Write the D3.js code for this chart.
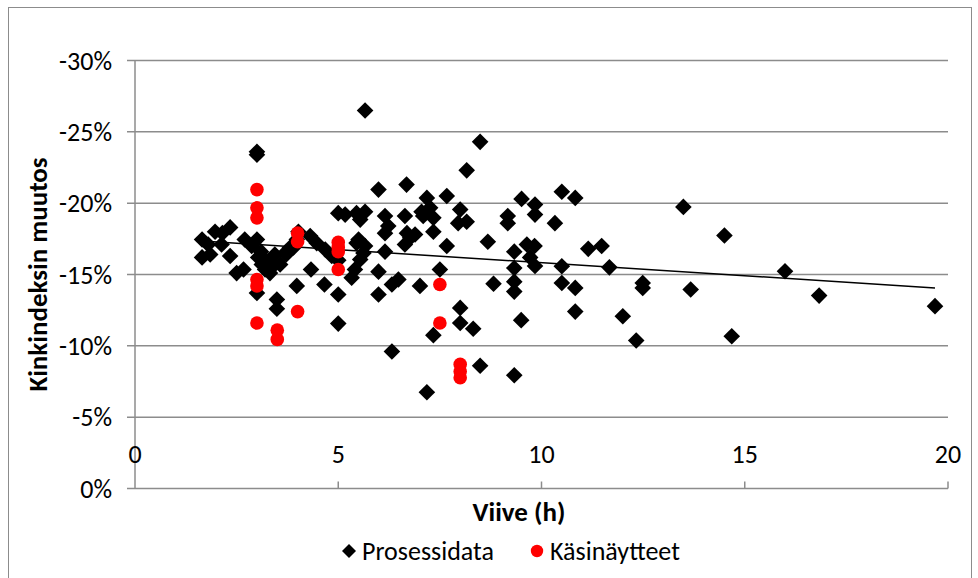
<!DOCTYPE html>
<html>
<head>
<meta charset="utf-8">
<script src="https://cdn.jsdelivr.net/npm/d3@7"></script>
<style>
  html, body { margin: 0; padding: 0; background: #fff; }
  svg { display: block; font-family: Carlito, Calibri, Lato, sans-serif; }
</style>
</head>
<body>
<div id="chart"></div>
<script>
const width = 978;
const height = 578;

// Prosessidata: viive (h), kinkindeksin muutos (%)
const procX = [
  1.65, 1.65, 1.8, 1.85, 1.97, 2.15, 2.34, 2.13, 2.34, 2.5, 2.67, 2.7, 2.87, 3.0, 3.0, 3.0,
  3.0, 3.03, 3.12, 3.2, 3.32, 3.24, 3.44, 3.57, 3.69, 3.81, 3.98, 3.49, 3.49, 3.98, 4.02, 3.4,
  3.1, 3.72, 3.9, 4.31, 4.47, 4.68, 4.84, 4.33, 4.66, 5.0, 5.17, 5.0, 5.0, 5.0,
  5.33, 5.41, 5.54, 5.62, 5.45, 5.5, 5.66, 5.45, 5.66, 5.54, 5.66, 5.99, 6.15, 6.23, 6.15, 6.15,
  5.99, 5.99, 6.32, 6.48, 6.32, 6.64, 6.69, 6.77, 6.64, 6.68, 6.89, 7.01,
  7.18, 7.67, 7.05, 7.26, 7.34, 7.09, 7.34, 8.0, 7.95, 8.16, 7.67, 7.5, 8.68, 8.82, 8.0, 8.0,
  8.32, 7.34, 8.49, 7.18, 8.49, 8.16,
  9.33, 9.51, 9.84, 9.84, 9.17, 9.17, 10.33, 9.33, 9.33, 9.33, 9.33, 9.64, 9.83, 9.72, 9.84, 9.5,
  10.5, 10.83, 11.15, 11.48, 10.5, 10.5, 10.83, 10.83,
  11.67, 12.0, 12.33, 12.49, 12.49, 13.49, 13.67, 14.5, 14.68, 15.99, 16.83, 19.68
];
const procY = [
  -17.45, -16.2, -17.1, -16.4, -18.0, -17.9, -18.3, -17.1, -16.3, -15.1, -15.35, -17.45, -17.0, -17.45, -23.4, -23.6,
  -13.7, -16.2, -15.7, -15.35, -15.1, -15.93, -16.4, -15.7, -16.5, -16.87, -17.45, -13.25, -12.6, -14.2, -18.0, -15.6,
  -16.6, -16.4, -16.9, -17.7, -17.2, -16.75, -16.3, -15.35, -14.3, -19.3, -19.2, -13.6, -11.56, -16.0,
  -14.77, -15.35, -16.05, -16.5, -17.2, -17.45, -17.0, -19.3, -19.4, -18.85, -26.5, -20.95, -19.1, -18.4, -17.9, -16.6,
  -15.2, -13.6, -14.3, -14.65, -9.6, -19.1, -17.9, -17.57, -17.1, -21.3, -17.8, -14.2,
  -20.37, -20.5, -19.4, -19.67, -18.97, -19.1, -18.0, -19.55, -18.6, -18.7, -17.0, -15.35, -17.3, -14.35, -12.66, -11.6,
  -11.2, -10.75, -8.6, -6.75, -24.3, -22.3,
  -7.94, -20.3, -19.9, -19.2, -19.1, -18.6, -18.6, -16.6, -15.45, -14.5, -13.8, -17.1, -17.0, -16.2, -15.6, -11.8,
  -20.8, -20.37, -16.8, -17.0, -15.58, -14.4, -14.06, -12.4,
  -15.5, -12.07, -10.37, -14.4, -14.06, -19.74, -13.95, -17.73, -10.67, -15.23, -13.52, -12.78
];

// Käsinäytteet
const handX = [3, 3, 3, 3, 3, 3, 3.5, 3.5, 4, 4, 4, 5, 5, 5, 5, 7.5, 7.5, 8, 8, 8];
const handY = [-20.95, -19.67, -18.97, -14.65, -14.2, -11.6, -11.1, -10.45, -17.9, -17.3, -12.4,
  -17.25, -16.9, -16.6, -15.35, -14.3, -11.6, -8.7, -8.2, -7.76];

// Linear trend (Prosessidata)
const trendX = [1.65, 19.68];
const trendY = [-17.35, -14.06];

const xTicks = [0, 5, 10, 15, 20];
const yTicks = [-30, -25, -20, -15, -10, -5, 0];

const plot = { left: 135, right: 948, top: 60.5, bottom: 488.5 };
const gridColor = "#8c8c8c";
const labelSize = "26px";
const titleSize = "27px";

const svg = d3.select("#chart").append("svg")
  .attr("width", width)
  .attr("height", height)
  .attr("viewBox", [0, 0, width, height]);

// outer chart border
svg.append("rect")
  .attr("x", 8.5).attr("y", 7.5)
  .attr("width", 963).attr("height", 600)
  .attr("fill", "none")
  .attr("stroke", "#8c8c8c")
  .attr("stroke-width", 1);

const x = d3.scaleLinear().domain([0, 20]).range([plot.left, plot.right]);
const y = d3.scaleLinear().domain([0, -30]).range([plot.bottom, plot.top]);

// gridlines + y ticks
svg.append("g")
  .selectAll("line")
  .data(yTicks)
  .join("line")
  .attr("x1", plot.left - 8)
  .attr("x2", plot.right)
  .attr("y1", d => y(d))
  .attr("y2", d => y(d))
  .attr("stroke", gridColor)
  .attr("stroke-width", 1.5);

// y axis line
svg.append("line")
  .attr("x1", plot.left).attr("x2", plot.left)
  .attr("y1", plot.top).attr("y2", plot.bottom)
  .attr("stroke", gridColor)
  .attr("stroke-width", 1.5);

// x tick marks on the 0% line
svg.append("g")
  .selectAll("line")
  .data(xTicks.slice(1))
  .join("line")
  .attr("x1", d => x(d)).attr("x2", d => x(d))
  .attr("y1", plot.bottom).attr("y2", plot.bottom - 7)
  .attr("stroke", gridColor)
  .attr("stroke-width", 1.5);

// y labels
svg.append("g")
  .selectAll("text")
  .data(yTicks)
  .join("text")
  .attr("x", 112)
  .attr("y", d => y(d))
  .attr("dy", "0.35em")
  .attr("text-anchor", "end")
  .style("font-size", labelSize)
  .attr("fill", "#000")
  .text(d => d + "%");

// x labels
svg.append("g")
  .selectAll("text")
  .data(xTicks)
  .join("text")
  .attr("x", d => x(d))
  .attr("y", 454)
  .attr("dy", "0.35em")
  .attr("text-anchor", "middle")
  .style("font-size", labelSize)
  .attr("fill", "#000")
  .text(d => d);

// axis titles
svg.append("text")
  .attr("transform", `translate(38,${(plot.top + plot.bottom) / 2}) rotate(-90)`)
  .attr("dy", "0.35em")
  .attr("text-anchor", "middle")
  .style("font-size", titleSize)
  .style("font-weight", "bold")
  .text("Kinkindeksin muutos");

svg.append("text")
  .attr("x", 519)
  .attr("y", 512)
  .attr("dy", "0.35em")
  .attr("text-anchor", "middle")
  .style("font-size", titleSize)
  .style("font-weight", "bold")
  .text("Viive (h)");

// trend line
svg.append("path")
  .datum(d3.zip(trendX, trendY))
  .attr("fill", "none")
  .attr("stroke", "#000")
  .attr("stroke-width", 1.5)
  .attr("d", d3.line().x(d => x(d[0])).y(d => y(d[1])));

// Prosessidata diamonds
const diamond = d3.symbol().type(d3.symbolSquare).size(138);
svg.append("g")
  .selectAll("path")
  .data(d3.zip(procX, procY))
  .join("path")
  .attr("d", diamond)
  .attr("transform", d => `translate(${x(d[0])},${y(d[1])}) rotate(45)`)
  .attr("fill", "#000");

// Käsinäytteet circles
svg.append("g")
  .selectAll("circle")
  .data(d3.zip(handX, handY))
  .join("circle")
  .attr("cx", d => x(d[0]))
  .attr("cy", d => y(d[1]))
  .attr("r", 6.8)
  .attr("fill", "#ff0000");

// legend
const legend = svg.append("g").attr("transform", "translate(0,551)");
legend.append("path")
  .attr("d", d3.symbol().type(d3.symbolSquare).size(98))
  .attr("transform", "translate(349,0) rotate(45)")
  .attr("fill", "#000");
legend.append("text")
  .attr("x", 362).attr("dy", "0.35em")
  .style("font-size", labelSize)
  .text("Prosessidata");
legend.append("circle")
  .attr("cx", 537).attr("r", 6.2)
  .attr("fill", "#ff0000");
legend.append("text")
  .attr("x", 550).attr("dy", "0.35em")
  .style("font-size", labelSize)
  .text("Käsinäytteet");
</script>
</body>
</html>
